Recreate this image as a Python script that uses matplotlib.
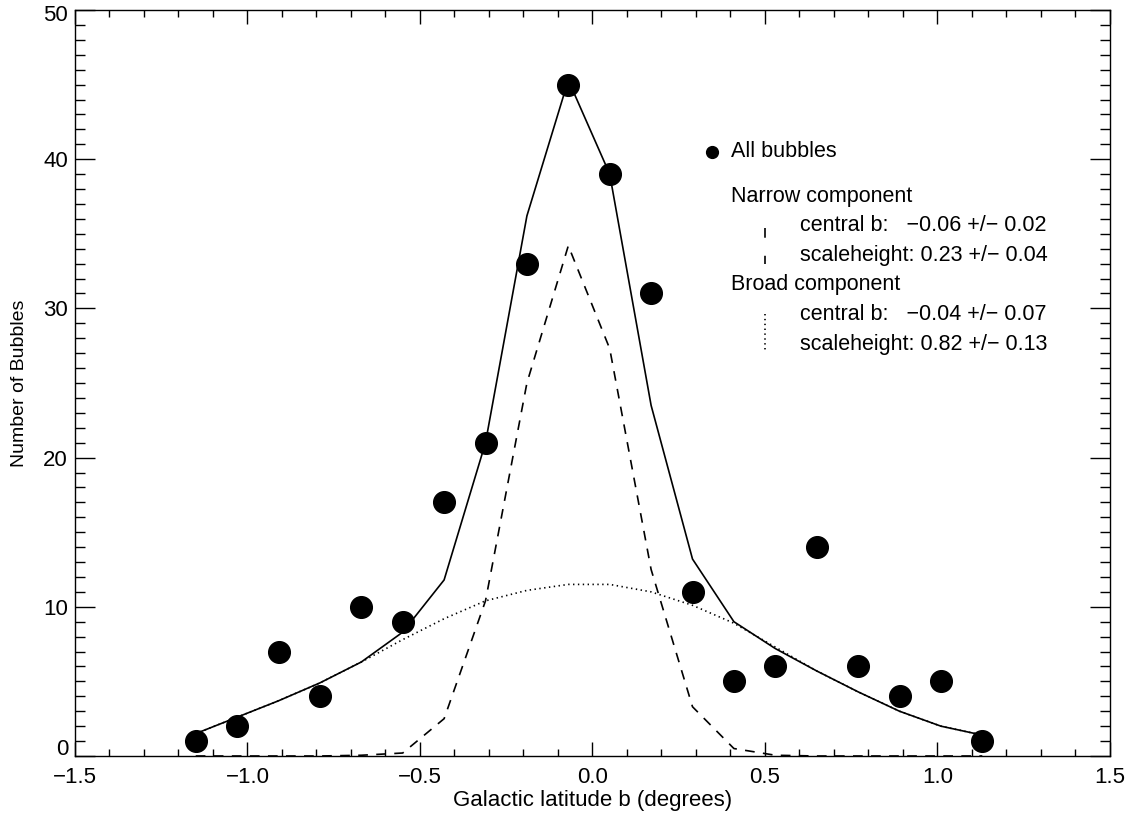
import numpy as np
import matplotlib
matplotlib.use("Agg")
import matplotlib.pyplot as plt
from matplotlib.ticker import MultipleLocator

# latitude bin centres (degrees)
b_bins = [-1.15, -1.03, -0.91, -0.79, -0.67, -0.55, -0.43, -0.31, -0.19, -0.07,
          0.05, 0.17, 0.29, 0.41, 0.53, 0.65, 0.77, 0.89, 1.01, 1.13]

# counts of bubbles per bin
n_bubbles = [1, 2, 7, 4, 10, 9, 17, 21, 33, 45,
             39, 31, 11, 5, 6, 14, 6, 4, 5, 1]

# two-component fit evaluated at the bin centres
fit_total = [1.5, 2.6, 3.7, 4.9, 6.3, 8.3, 11.8, 21.0, 36.2, 45.3,
             39.0, 23.5, 13.2, 9.0, 7.2, 5.7, 4.3, 3.0, 2.0, 1.4]
fit_narrow = [0.0, 0.0, 0.0, 0.0, 0.05, 0.2, 2.5, 10.4, 25.0, 34.2,
              27.3, 12.5, 3.3, 0.5, 0.05, 0.0, 0.0, 0.0, 0.0, 0.0]
fit_broad = [1.5, 2.6, 3.7, 4.9, 6.3, 7.8, 9.2, 10.4, 11.1, 11.5,
             11.5, 11.0, 10.1, 8.9, 7.3, 5.7, 4.3, 3.0, 2.0, 1.4]

plt.rcParams['font.family'] = ['Liberation Sans', 'DejaVu Sans']
plt.rcParams['lines.scale_dashes'] = False
FS = 16
FS_LEG = 15.5

fig = plt.figure(figsize=(11.34, 8.18), dpi=100)
ax = fig.add_axes([0.0661, 0.0758, 0.9127, 0.912])

ax.plot(b_bins, fit_total, color='black', lw=1.2)
ax.plot(b_bins, fit_narrow, color='black', lw=1.2, dashes=(7, 6))
ax.plot(b_bins, fit_broad, color='black', lw=1.2, dashes=(1, 2.5))
ax.plot(b_bins, n_bubbles, 'o', color='black', ms=15.6, clip_on=False)

ax.set_xlim(-1.5, 1.5)
ax.set_ylim(0, 50)
ax.xaxis.set_major_locator(MultipleLocator(0.5))
ax.xaxis.set_minor_locator(MultipleLocator(0.1))
ax.yaxis.set_major_locator(MultipleLocator(10))
ax.yaxis.set_minor_locator(MultipleLocator(1))
ax.xaxis.set_major_formatter(plt.FuncFormatter(lambda v, p: f"{v:.1f}".replace('-', '\u2212')))
# end labels of the y axis are drawn separately, nudged inside the range
ax.yaxis.set_major_formatter(plt.FuncFormatter(
    lambda v, p: '' if v in (0, 50) else f"{v:.0f}"))
ax.tick_params(axis='both', which='both', direction='in', top=True, right=True,
               labelsize=FS, width=1.0, colors='black')
ax.tick_params(axis='x', which='major', length=10, pad=8)
ax.tick_params(axis='x', which='minor', length=5)
ax.tick_params(axis='y', which='major', length=14.5, pad=5)
ax.tick_params(axis='y', which='minor', length=7.2)
for s in ax.spines.values():
    s.set_linewidth(1.0)

ax.annotate('0', xy=(0, 0), xycoords='axes fraction', xytext=(-5, 5),
            textcoords='offset points', ha='right', va='center', fontsize=FS)
ax.annotate('50', xy=(0, 1), xycoords='axes fraction', xytext=(-5, -4),
            textcoords='offset points', ha='right', va='center', fontsize=FS)

ax.set_xlabel('Galactic latitude b (degrees)', fontsize=FS, labelpad=1.5)
ax.set_ylabel('Number of Bubbles', fontsize=14, labelpad=11)

# legend block, placed by hand in axes coordinates
def ax_xy(px, py):
    return ((px - 75) / 1035.0, (756 - py) / 746.0)

tr = ax.transAxes
ax.plot(*ax_xy(712, 152), 'o', color='black', ms=8.5, transform=tr)
ax.text(*ax_xy(731, 152), 'All bubbles', fontsize=FS_LEG, va='center', transform=tr)
ax.text(*ax_xy(731, 197), 'Narrow component', fontsize=FS_LEG, va='center', transform=tr)
ax.text(*ax_xy(800, 226), 'central b:   \u22120.06 +/\u2212 0.02', fontsize=FS_LEG, va='center', transform=tr)
ax.text(*ax_xy(800, 256), 'scaleheight: 0.23 +/\u2212 0.04', fontsize=FS_LEG, va='center', transform=tr)
ax.text(*ax_xy(731, 285), 'Broad component', fontsize=FS_LEG, va='center', transform=tr)
ax.text(*ax_xy(800, 315), 'central b:   \u22120.04 +/\u2212 0.07', fontsize=FS_LEG, va='center', transform=tr)
ax.text(*ax_xy(800, 345), 'scaleheight: 0.82 +/\u2212 0.13', fontsize=FS_LEG, va='center', transform=tr)

x0, y0 = ax_xy(765, 228)
x1, y1 = ax_xy(765, 264)
ax.plot([x0, x1], [y0, y1], color='black', lw=1.2, dashes=(7, 13), transform=tr)
x0, y0 = ax_xy(765, 314)
x1, y1 = ax_xy(765, 352)
ax.plot([x0, x1], [y0, y1], color='black', lw=1.2, dashes=(1, 2.5), transform=tr)

fig.savefig('out.png', dpi=100)
